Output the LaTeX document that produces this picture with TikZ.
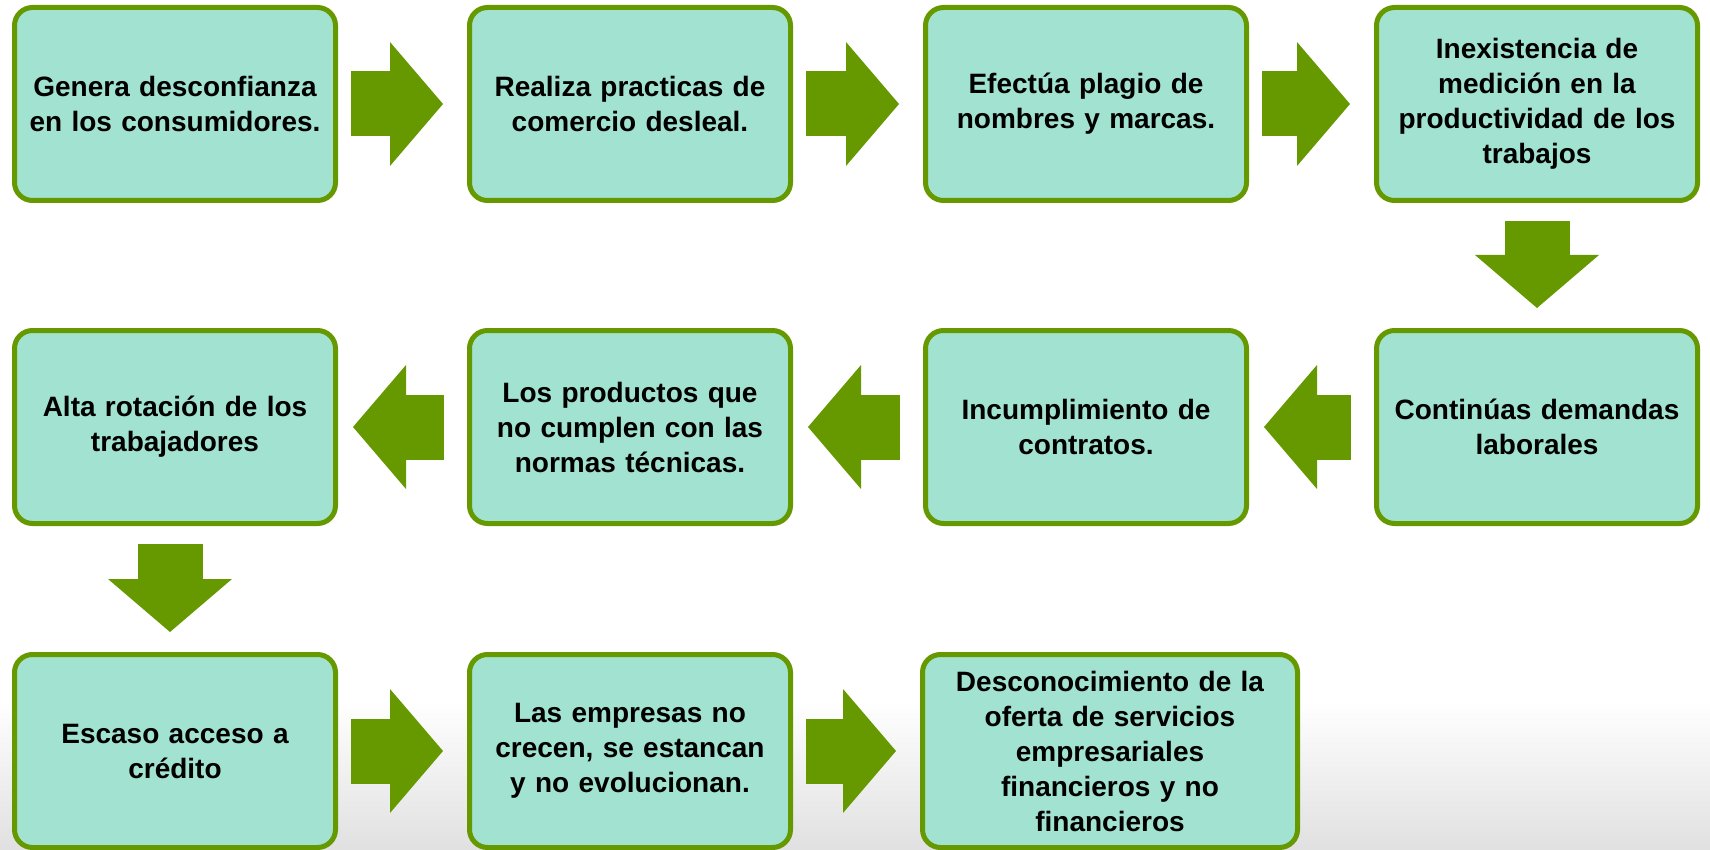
\documentclass[tikz,border=0pt]{standalone}
\usepackage{fontspec}
\setmainfont{Liberation Sans}
\usetikzlibrary{positioning,arrows.meta}
\definecolor{verde}{HTML}{669900}
\definecolor{aguamarina}{HTML}{A1E2D0}
\tikzset{
    x=1pt, y=-1pt, % one unit is one pixel, y goes down
    caja/.style={rectangle, rounded corners=18pt, draw=verde, line width=5pt,
      fill=aguamarina, minimum width=321pt, minimum height=193pt, inner sep=4pt,
      text width=310pt, align=center,
      font=\bfseries\fontsize{28}{35}\selectfont}, % the boxes
    flecha/.style={draw=verde, line width=65pt,
      -{Triangle[length=53pt,width=124pt,line width=0pt,fill=verde,color=verde]}}, % the big green arrows
}

\begin{document}
\begin{tikzpicture}
  \useasboundingbox (0,0) rectangle (1710,850);
  \fill[white] (0,0) rectangle (1710,850);
  \shade[top color=white,bottom color=black!12] (0,700) rectangle (1710,850);

  % first row, left to right
  \node[caja] (c_1) at (175,104) {Genera desconfianza\\en los consumidores.};
  \node[caja] (c_2) [right=129pt of c_1] {Realiza practicas de\\comercio desleal.};
  \node[caja] (c_3) [right=130pt of c_2] {Efectúa plagio de\\nombres y marcas.};
  \node[caja] (c_4) [right=125pt of c_3] {Inexistencia de\\medición en la\\productividad de los\\trabajos};

  % second row, right to left
  \node[caja] (c_5) [below=125pt of c_4] {Continúas demandas\\laborales};
  \node[caja] (c_6) [left=125pt of c_5]  {Incumplimiento de\\contratos.};
  \node[caja] (c_7) [left=130pt of c_6]  {Los productos que\\no cumplen con las\\normas técnicas.};
  \node[caja] (c_8) [left=129pt of c_7]  {Alta rotación de los\\trabajadores};

  % third row
  \node[caja] (c_9)  [below=126pt of c_8]  {Escaso acceso a\\crédito};
  \node[caja] (c_10) [right=129pt of c_9]  {Las empresas no\\crecen, se estancan\\y no evolucionan.};
  \node[caja,minimum width=375pt] (c_11) [right=127pt of c_10]
    {Desconocimiento de la\\oferta de servicios\\empresariales\\financieros y no\\financieros};

  \foreach \a/\b in {c_1/c_2, c_2/c_3, c_3/c_4, c_9/c_10, c_10/c_11}
    \draw[flecha, shorten <=13pt, shorten >=24pt] (\a.east) -- (\b.west);
  \foreach \a/\b in {c_5/c_6, c_6/c_7, c_7/c_8}
    \draw[flecha, shorten <=23pt, shorten >=15pt] (\a.west) -- (\b.east);
  \draw[flecha, shorten <=18pt, shorten >=20pt] (c_4.south) -- (c_5.north);
  \draw[flecha, shorten <=18pt, shorten >=20pt]
    ([xshift=-5pt]c_8.south) -- ([xshift=-5pt]c_9.north);
\end{tikzpicture}
\end{document}
